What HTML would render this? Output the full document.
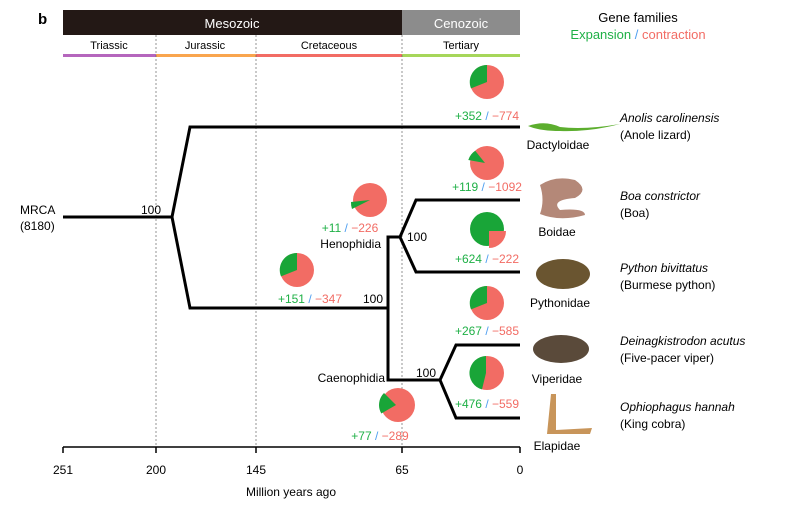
<!DOCTYPE html>
<html><head><meta charset="utf-8"><style>
body{margin:0;background:#fff;}
svg{display:block;font-family:"Liberation Sans",sans-serif;}
</style></head><body>
<svg width="800" height="508" viewBox="0 0 800 508">
<text x="38" y="24" font-size="15" font-weight="bold">b</text>
<rect x="63" y="10" width="339" height="25" fill="#231815"/>
<rect x="402" y="10" width="118" height="25" fill="#8c8c8c"/>
<text x="232" y="28" font-size="13" fill="#fff" text-anchor="middle">Mesozoic</text>
<text x="461" y="28" font-size="13" fill="#fff" text-anchor="middle">Cenozoic</text>
<g font-size="11" text-anchor="middle">
<text x="109" y="49">Triassic</text><text x="205" y="49">Jurassic</text><text x="329" y="49">Cretaceous</text><text x="461" y="49">Tertiary</text></g>
<rect x="63" y="54" width="93" height="3" fill="#b566bd"/>
<rect x="156" y="54" width="100" height="3" fill="#f9a54e"/>
<rect x="256" y="54" width="146" height="3" fill="#f26c64"/>
<rect x="402" y="54" width="118" height="3" fill="#a6d65a"/>
<g stroke="#666" stroke-width="0.7" stroke-dasharray="2,2">
<line x1="156" y1="35" x2="156" y2="447"/><line x1="256" y1="35" x2="256" y2="447"/><line x1="402" y1="35" x2="402" y2="447"/></g>
<text x="638" y="22" font-size="13" text-anchor="middle">Gene families</text>
<text x="638" y="39" font-size="13" text-anchor="middle"><tspan fill="#1fb046">Expansion</tspan><tspan fill="#4f9ff0"> / </tspan><tspan fill="#f26c64">contraction</tspan></text>
<!-- axis -->
<g stroke="#000" stroke-width="1.5">
<line x1="63" y1="447" x2="520" y2="447"/>
<line x1="63" y1="447" x2="63" y2="453"/><line x1="156" y1="447" x2="156" y2="453"/><line x1="256" y1="447" x2="256" y2="453"/><line x1="402" y1="447" x2="402" y2="453"/><line x1="520" y1="447" x2="520" y2="453"/></g>
<g font-size="12" text-anchor="middle">
<text x="63" y="474">251</text><text x="156" y="474">200</text><text x="256" y="474">145</text><text x="402" y="474">65</text><text x="520" y="474">0</text>
<text x="291" y="496">Million years ago</text></g>
<!-- tree -->
<g stroke="#000" stroke-width="3" fill="none" stroke-linejoin="miter">
<polyline points="63,217 172,217"/>
<polyline points="520,127 190,127 172,217 190,308 388,308"/>
<polyline points="400,237 388,237 388,380 440,380"/>
<polyline points="520,200 416,200 400,237 416,272 520,272"/>
<polyline points="520,345 456,345 440,380 456,418 520,418"/>
</g>
<g font-size="12">
<text x="20" y="214">MRCA</text><text x="20" y="230">(8180)</text>
<text x="141" y="214">100</text>
<text x="363" y="303">100</text>
<text x="407" y="241">100</text>
<text x="416" y="377">100</text>
<text x="381" y="248" text-anchor="end">Henophidia</text>
<text x="385" y="382" text-anchor="end">Caenophidia</text>
</g>
<!-- pies -->
<g>
<circle cx="487" cy="82" r="17" fill="#f26c64"/><path d="M487 82 L471 88.4 A17 17 0 0 1 487 65 Z" fill="#19a538"/>
<circle cx="487" cy="163" r="17" fill="#f26c64"/><path d="M485 163 L468.3 160 A17 17 0 0 1 475.2 150.8 Z" fill="#19a538"/>
<circle cx="370" cy="200" r="17" fill="#f26c64"/><path d="M370 200 L352 209 A19 19 0 0 1 351 202 Z" fill="#19a538"/>
<circle cx="297" cy="270" r="17" fill="#f26c64"/><path d="M297 270 L281 276.4 A17 17 0 0 1 297 253 Z" fill="#19a538"/>
<circle cx="487" cy="229" r="17" fill="#19a538"/><path d="M489 231 L506 231 A17 17 0 0 1 489 248 Z" fill="#f26c64"/>
<circle cx="487" cy="303" r="17" fill="#f26c64"/><path d="M487 303 L471 309.4 A17 17 0 0 1 487 286 Z" fill="#19a538"/>
<circle cx="487" cy="373" r="17" fill="#f26c64"/><path d="M486 373 L482 389.4 A17 17 0 0 1 486 356 Z" fill="#19a538"/>
<circle cx="398" cy="405" r="17" fill="#f26c64"/><path d="M396 405 L381.3 413.5 A17 17 0 0 1 384 393 Z" fill="#19a538"/>
</g>
<g font-size="12" text-anchor="middle">
<text x="487" y="120"><tspan fill="#1fb046">+352</tspan><tspan fill="#4f9ff0"> / </tspan><tspan fill="#f26c64">−774</tspan></text>
<text x="487" y="191"><tspan fill="#1fb046">+119</tspan><tspan fill="#4f9ff0"> / </tspan><tspan fill="#f26c64">−1092</tspan></text>
<text x="350" y="232"><tspan fill="#1fb046">+11</tspan><tspan fill="#4f9ff0"> / </tspan><tspan fill="#f26c64">−226</tspan></text>
<text x="310" y="303"><tspan fill="#1fb046">+151</tspan><tspan fill="#4f9ff0"> / </tspan><tspan fill="#f26c64">−347</tspan></text>
<text x="487" y="263"><tspan fill="#1fb046">+624</tspan><tspan fill="#4f9ff0"> / </tspan><tspan fill="#f26c64">−222</tspan></text>
<text x="487" y="335"><tspan fill="#1fb046">+267</tspan><tspan fill="#4f9ff0"> / </tspan><tspan fill="#f26c64">−585</tspan></text>
<text x="487" y="408"><tspan fill="#1fb046">+476</tspan><tspan fill="#4f9ff0"> / </tspan><tspan fill="#f26c64">−559</tspan></text>
<text x="380" y="440"><tspan fill="#1fb046">+77</tspan><tspan fill="#4f9ff0"> / </tspan><tspan fill="#f26c64">−289</tspan></text>
</g>
<!-- animals -->
<path d="M528 126 Q545 120 560 127 Q585 130 620 124 Q590 132 560 131 Q540 131 528 126Z" fill="#5cae2e"/>
<path d="M540 185 Q555 175 575 180 Q590 190 575 198 Q550 200 560 210 Q585 208 585 215 Q560 222 540 214 Q545 200 540 185Z" fill="#b48878"/>
<ellipse cx="563" cy="274" rx="27" ry="15" fill="#6a5530"/>
<ellipse cx="561" cy="349" rx="28" ry="14" fill="#5a4a3a"/>
<path d="M551 394 L556 394 L556 430 L592 428 L590 434 L547 434 Z" fill="#c8955a"/>
<g font-size="12" text-anchor="middle">
<text x="558" y="149">Dactyloidae</text><text x="557" y="236">Boidae</text><text x="560" y="307">Pythonidae</text><text x="557" y="383">Viperidae</text><text x="557" y="450">Elapidae</text></g>
<g font-size="12">
<text x="620" y="122" font-style="italic">Anolis carolinensis</text><text x="620" y="139">(Anole lizard)</text>
<text x="620" y="200" font-style="italic">Boa constrictor</text><text x="620" y="217">(Boa)</text>
<text x="620" y="272" font-style="italic">Python bivittatus</text><text x="620" y="289">(Burmese python)</text>
<text x="620" y="345" font-style="italic">Deinagkistrodon acutus</text><text x="620" y="362">(Five-pacer viper)</text>
<text x="620" y="411" font-style="italic">Ophiophagus hannah</text><text x="620" y="428">(King cobra)</text>
</g>
</svg>
</body></html>
